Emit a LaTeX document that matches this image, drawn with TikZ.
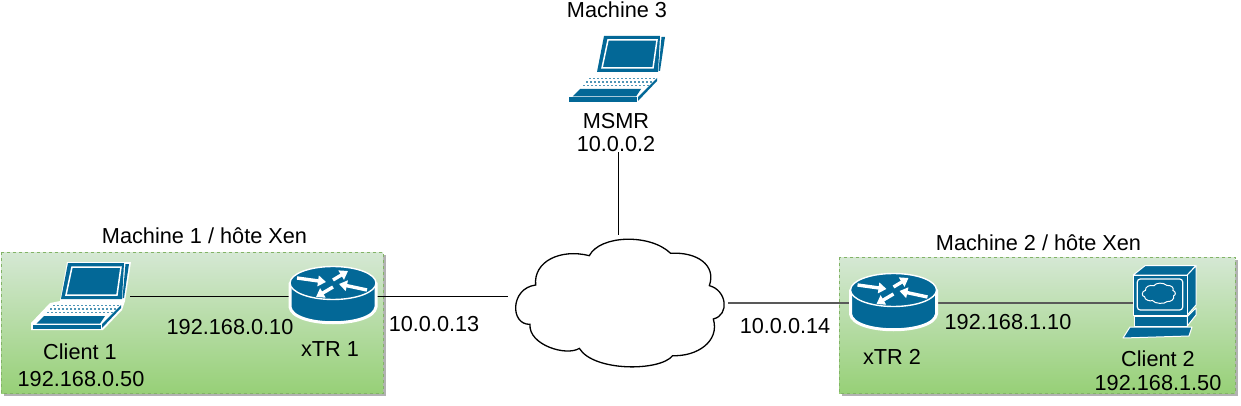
\documentclass[tikz,border=0pt]{standalone}
\usepackage{fontspec}
\setmainfont{Liberation Sans}
\usetikzlibrary{arrows.meta,shadows}
\definecolor{ciscoblue}{HTML}{036897}
\definecolor{hosttop}{HTML}{D5E8D4}
\definecolor{hostbot}{HTML}{97D077}
\definecolor{hostline}{HTML}{82B366}
\tikzset{
    lbl/.style={inner sep=0pt, align=center, font=\fontsize{21.7}{23}\selectfont},
    iconbox/.style={inner sep=0pt, outer sep=0pt},
    hostbox/.style={draw=hostline, dashed, top color=hosttop, bottom color=hostbot,
        drop shadow={shadow xshift=2.5pt, shadow yshift=-2.5pt, opacity=.3, fill=black}},
    blue part/.style={fill=ciscoblue, draw=white, line width=1pt, line join=round},
    link/.style={draw=black, line width=1pt},
    soft link/.style={draw=black!65, line width=1.6pt},
    router arrow/.style={draw=white, line width=3.4pt, -{Triangle[length=8pt,width=10.5pt]}}
}
\newcommand{\cloudoutline}{(107,180) .. controls (100,110) and (180,70) .. (268,92)
    .. controls (300,30) and (450,25) .. (512,85)
    .. controls (590,80) and (650,120) .. (628,182)
    .. controls (680,195) and (690,270) .. (640,282)
    .. controls (660,350) and (590,395) .. (518,392)
    .. controls (480,440) and (280,440) .. (238,370)
    .. controls (200,395) and (85,360) .. (90,298)
    .. controls (30,300) and (30,190) .. (107,180) -- cycle}
\newcommand{\laptopicon}[2]{
    \begin{scope}[shift={(#1,#2)}]
        \fill[white] (34,-1) -- (98,-1) -- (92,38) -- (89,47) -- (70,67) -- (-2,67) -- (-2,60) -- (17,40) -- (27,38) -- cycle;
        \fill[ciscoblue] (35,0) -- (91,0) -- (89,36) -- (28,36) -- cycle;
        \draw[white, line width=1.5pt] (39,4) -- (88,4) -- (84,32) -- (33,32) -- cycle;
        \fill[ciscoblue] (92.5,1) -- (96,1) -- (91,35) -- (89.5,35) -- cycle;
        \fill[ciscoblue] (11,53) -- (72,53) -- (67,60.5) -- (3.5,60.5) -- cycle;
        \fill[ciscoblue] (0,61.5) -- (68,61.5) -- (68,66) -- (0,66) -- cycle;
        \fill[ciscoblue] (69,61) -- (88,42) -- (88,45) -- (69,65) -- cycle;
        \foreach \row/\xa/\xb in {42.5/20/87, 46/17/84, 49.5/14/80}
            \draw[ciscoblue!70, line width=1.4pt, dash pattern=on 1.5pt off 2.5pt] (\xa,\row) -- (\xb,\row);
    \end{scope}
}
\newcommand{\routericon}[2]{
    \begin{scope}[shift={(#1,#2)}]
        \filldraw[blue part, line width=3pt, draw=white] (-43,0) -- (-43,24) .. controls (-40,45) and (40,45) .. (43,24) -- (43,0) -- cycle;
        \draw[blue part, line width=1.4pt] (0,0) ellipse [x radius=43, y radius=16.5];
        \draw[router arrow] (-36,-5) -- (-7,-1);
        \draw[router arrow] (0,-3) -- (15,-12);
        \draw[router arrow] (34,7) -- (6,1);
        \draw[router arrow] (0,4) -- (-17,14);
    \end{scope}
}
\newcommand{\computericon}[2]{
    \begin{scope}[shift={(#1,#2)}]
        \draw[blue part] (23.3,20) -- (35,10.7) -- (86,10.7) -- (77.3,20) -- cycle;
        \draw[blue part] (77.3,20) -- (86,10.7) -- (86,50) -- (77.3,60) -- cycle;
        \draw[blue part] (23.3,20) rectangle (77.3,60);
        \draw[white, line width=1.2pt, rounded corners=3pt] (27.3,24) rectangle (72.7,55);
        \draw[blue part] (24,61.5) rectangle (77.3,71);
        \draw[blue part] (77.3,61.5) -- (86,53) -- (86,60) -- (77.3,71) -- cycle;
        \draw[blue part] (20,72) -- (82,72) -- (79,81) -- (13,83) -- cycle;
        \begin{scope}[shift={(29.8,25.9)}, scale=.0528]
            \draw[white, line width=1pt] \cloudoutline;
        \end{scope}
    \end{scope}
}

\begin{document}
\begin{tikzpicture}[x=1pt, y=-1pt]
    \useasboundingbox (0,0) rectangle (1241,406);
    % hosts
    \path[hostbox] (1,252) rectangle (383,393.5);
    \path[hostbox] (839,257) rectangle (1235,393);
    % boxes that the links end on
    \node[iconbox, minimum width=97pt, minimum height=66pt] (client1) at (81.5,296) {};
    \node[iconbox, minimum width=86pt, minimum height=58pt] (xtr1) at (333,296) {};
    \node[iconbox, minimum width=86pt, minimum height=58pt] (xtr2) at (893.5,303) {};
    \node[iconbox, minimum width=63pt, minimum height=76pt] (client2) at (1164.5,303) {};
    \node[lbl] (msmr) at (616,133) {MSMR\\10.0.0.2};
    \coordinate (cloudn) at (618,235);
    \coordinate (cloudw) at (508,296);
    \coordinate (cloude) at (728,303);
    % links
    \draw[link] (msmr.south -| cloudn) -- (cloudn);
    \draw[link] (client1.east) -- (xtr1.west);
    \draw[link] (xtr1.east) -- (cloudw);
    \draw[soft link] (cloude) -- (xtr2.west);
    \draw[soft link] (xtr2.east) -- (client2.west);
    % cloud
    \begin{scope}[shift={(500,225)}, scale=.3333]
        \draw[line width=1.3pt, fill=white] \cloudoutline;
    \end{scope}
    % icons
    \laptopicon{569}{36}
    \laptopicon{33}{263}
    \routericon{333}{283}
    \routericon{893.5}{290}
    \computericon{1110}{255}
    % texts
    \node[lbl] (title3) at (617,10) {Machine 3};
    \node[lbl] (title1) at (204.5,236) {Machine 1 / hôte Xen};
    \node[lbl] (title2) at (1038.5,243) {Machine 2 / hôte Xen};
    \node[lbl] (client1name) at (80,352) {Client 1};
    \node[lbl] (client1ip) at (81,379) {192.168.0.50};
    \node[lbl] (xtr1ip) at (230,327) {192.168.0.10};
    \node[lbl] (xtr1name) at (330,349) {xTR 1};
    \node[lbl] (wan1) at (434,324) {10.0.0.13};
    \node[lbl] (wan2) at (785,326) {10.0.0.14};
    \node[lbl] (xtr2name) at (892,357) {xTR 2};
    \node[lbl] (xtr2ip) at (1008,322) {192.168.1.10};
    \node[lbl] (client2name) at (1158,359) {Client 2};
    \node[lbl] (client2ip) at (1158,383) {192.168.1.50};
\end{tikzpicture}
\end{document}
